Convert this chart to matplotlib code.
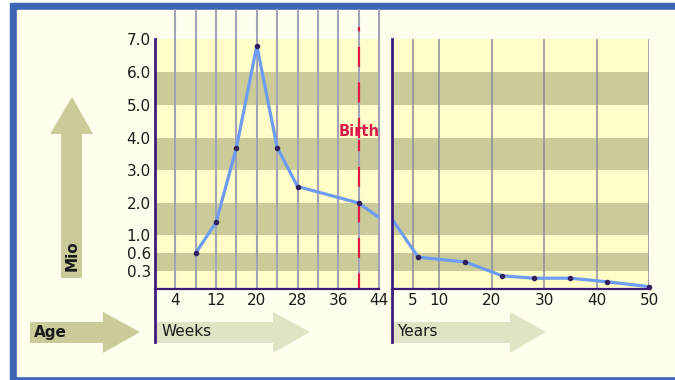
import numpy as np
import matplotlib
matplotlib.use("Agg")
import matplotlib.pyplot as plt
from matplotlib.patches import Polygon, Rectangle

plt.rcParams['font.family'] = ['DejaVu Sans']

# data (number of cells, in Mio)
weeks = [8, 12, 16, 20, 24, 28, 40, 44]
weeks_mio = [0.6, 1.4, 3.7, 6.8, 3.7, 2.5, 2.0, 1.55]
years = [1, 6, 15, 22, 28, 35, 42, 50]
years_mio = [1.5, 0.53, 0.45, 0.22, 0.18, 0.18, 0.12, 0.04]

week_ticks = [4, 12, 20, 28, 36, 44]
week_grid = [4, 8, 12, 16, 20, 24, 28, 32, 36, 40, 44]
year_ticks = [5, 10, 20, 30, 40, 50]
y_ticks = [0.3, 0.6, 1.0, 2.0, 3.0, 4.0, 5.0, 6.0, 7.0]
y_labels = ["0.3", "0.6", "1.0", "2.0", "3.0", "4.0", "5.0", "6.0", "7.0"]
birth_week = 40

# uneven y axis: the low values get stretched
scale_vals = [0, 0.3, 0.6, 1, 2, 3, 4, 5, 6, 7]
scale_pos = [0, 18, 36, 54, 86, 119, 151, 184, 217, 250]
def fwd(v):
    return np.interp(v, scale_vals, scale_pos)
def inv(p):
    return np.interp(p, scale_pos, scale_vals)

W, H = 675, 380
cream = "#FFFFEE"
yellow = "#FFFDC8"
khaki = "#CBCB9A"
khaki_light = "#E2E2C4"
purple = "#3E1C7A"
blue_line = "#6C9CF4"
dot = "#33205E"
grid_c = "#A3A3B8"
txt = "#1a1a1a"

fig = plt.figure(figsize=(W / 100, H / 100), dpi=100)
fig.patch.set_facecolor("white")

# canvas in pixel coords for frame, arrows and labels
cv = fig.add_axes([0, 0, 1, 1])
cv.set_xlim(0, W)
cv.set_ylim(H, 0)
cv.axis("off")
cv.add_patch(Rectangle((10, 3), 700, 400, color="#3C66B4"))
cv.add_patch(Rectangle((17, 10), 700, 366, color=cream))

# arrows
cv.add_patch(Polygon([(72, 97), (93, 134), (82, 134), (82, 278), (61, 278), (61, 134), (50, 134)],
                     closed=True, color=khaki, lw=0))
def harrow(x0, x1, xtip, col):
    cv.add_patch(Polygon([(x0, 322), (x1, 322), (x1, 312), (xtip, 332), (x1, 353), (x1, 343), (x0, 343)],
                         closed=True, color=col, lw=0))
harrow(30, 103, 140, khaki)
harrow(155, 273, 310, khaki_light)
harrow(392, 510, 546, khaki_light)
cv.text(72, 256, "Mio", rotation=90, ha="center", va="center", fontsize=11, fontweight="bold", color=txt)
cv.text(34, 333, "Age", ha="left", va="center", fontsize=11, fontweight="bold", color=txt)
cv.text(161, 332, "Weeks", ha="left", va="center", fontsize=11, color=txt)
cv.text(397, 332, "Years", ha="left", va="center", fontsize=11, color=txt)


def panel(x0, x1):
    ax = fig.add_axes([x0 / W, (H - 289) / H, (x1 - x0) / W, 250 / H])
    ax.set_yscale("function", functions=(fwd, inv))
    ax.set_ylim(0, 7)
    ax.set_facecolor("none")
    for i in range(len(scale_vals) - 1):
        ax.axhspan(scale_vals[i], scale_vals[i + 1], color=khaki if i % 2 else yellow, lw=0, zorder=0)
    for s in ax.spines.values():
        s.set_visible(False)
    ax.set_yticks(y_ticks)
    ax.tick_params(length=0, labelsize=11, labelcolor=txt)
    ax.minorticks_off()
    return ax


# weeks panel
axw = panel(155, 379)
axw.set_xlim(0, 44)
axw.set_yticklabels(y_labels)
axw.tick_params(axis="y", pad=3)
axw.tick_params(axis="x", pad=3)
axw.set_xticks(week_ticks)
axw.set_xticklabels([str(t) for t in week_ticks])
for g in week_grid:
    axw.axvline(g, ymin=0, ymax=(289 - 10) / 250, color=grid_c, lw=1.5, clip_on=False, zorder=1)
axw.axvline(birth_week, ymin=(289 - 138) / 250, ymax=(289 - 27) / 250, color="#E0184A", lw=1.6,
            ls=(0, (9, 7)), clip_on=False, zorder=2)
axw.axvline(birth_week, ymin=0, ymax=(289 - 140) / 250, color="#E0184A", lw=1.6,
            ls=(2, (9, 7)), clip_on=False, zorder=2)
axw.text(birth_week, 4.2, "Birth", ha="center", va="center", fontsize=10.5, fontweight="bold",
         color="#D81A4C", zorder=3)
axw.plot(weeks, weeks_mio, color=blue_line, lw=2.3, zorder=4, solid_capstyle="round")
axw.plot(weeks[:-1], weeks_mio[:-1], "o", ms=3, color=dot, zorder=5)
axw.axvline(0, ymin=(289 - 342) / 250, ymax=1, color=purple, lw=2, clip_on=False, zorder=6)
axw.axhline(0, color=purple, lw=1.6, clip_on=False, zorder=6)

# years panel
axy = panel(392, 649)
axy.set_xlim(1, 50)
axy.set_yticklabels([])
axy.set_xticks(year_ticks)
axy.set_xticklabels([str(t) for t in year_ticks])
axy.tick_params(axis="x", pad=3)
for g in year_ticks:
    axy.axvline(g, color="#8C8CA0", lw=1.1, zorder=1)
axy.plot(years, years_mio, color=blue_line, lw=2.3, zorder=4, solid_capstyle="round")
axy.plot(years[1:], years_mio[1:], "o", ms=3, color=dot, zorder=5, clip_on=False)
axy.axvline(1, ymin=(289 - 342) / 250, ymax=1, color=purple, lw=2, clip_on=False, zorder=6)
axy.axhline(0, color=purple, lw=1.6, clip_on=False, zorder=6)

fig.savefig("out.png", dpi=100)
